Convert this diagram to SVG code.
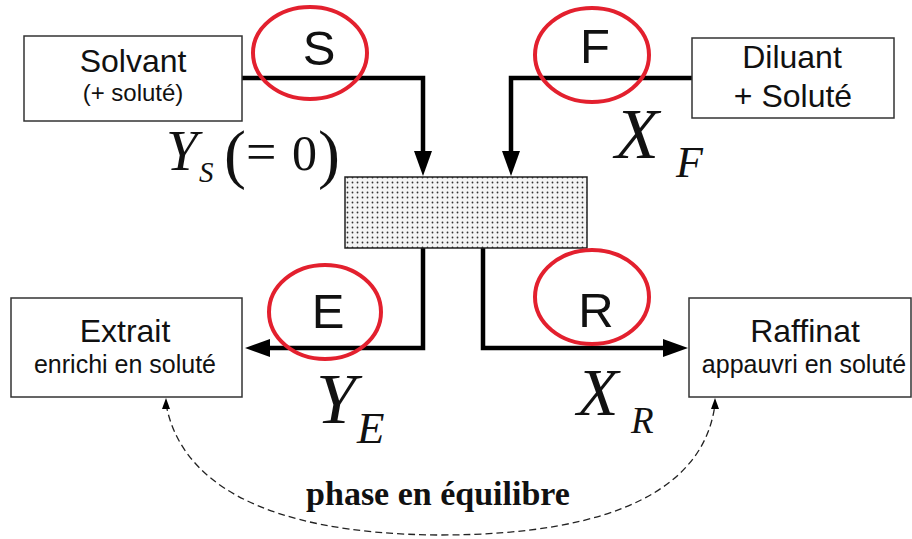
<svg xmlns="http://www.w3.org/2000/svg" width="912" height="539" viewBox="0 0 912 539">
<style>
.box{fill:#fff;stroke:#333;stroke-width:1.5}
.lbl{font-family:"Liberation Sans",Arial,sans-serif;fill:#111;text-anchor:middle}
.flow{fill:none;stroke:#000;stroke-width:4.5;stroke-linejoin:miter}
.ring{fill:none;stroke:#e3202e;stroke-width:4}
.math{font-family:"Liberation Serif","Times New Roman",serif;font-style:italic;fill:#111}
.rm{font-family:"Liberation Serif","Times New Roman",serif;fill:#111}
.big{font-family:"Liberation Sans",Arial,sans-serif;fill:#111;text-anchor:middle;font-size:49px}
.dash{fill:none;stroke:#222;stroke-width:1.3;stroke-dasharray:7 4}
</style>
<defs>
<pattern id="dots" width="5" height="5" patternUnits="userSpaceOnUse">
<rect width="5" height="5" fill="#f4f4f4"/>
<circle cx="2.5" cy="2.5" r="0.9" fill="#333"/>
</pattern>
</defs>

<g id="connectors">
<polyline class="flow" points="242,78 423,78 423,153"/>
<polygon points="414,151 432,151 423,176" fill="#000"/>
<polyline class="flow" points="692,78 511,78 511,153"/>
<polygon points="502,151 520,151 511,176" fill="#000"/>
<polyline class="flow" points="423,248 423,348 268,348"/>
<polygon points="270,339 270,357 245,348" fill="#000"/>
<polyline class="flow" points="483,248 483,348 665,348"/>
<polygon points="663,339 663,357 688,348" fill="#000"/>
<path class="dash" d="M166,404 C180,480 260,534 440,535 C620,535 705,485 715,404"/>
<polygon points="162,409 170,409 166,398" fill="#000"/>
<polygon points="711,409 719,409 715,398" fill="#000"/>
</g>

<g id="mixer">
<rect x="345" y="177" width="242" height="71" fill="url(#dots)" stroke="#222" stroke-width="1.5"/>
</g>

<g id="solvant">
<rect class="box" x="24" y="36" width="218" height="85"/>
<text class="lbl" x="133" y="72" font-size="32">Solvant</text>
<text class="lbl" x="133" y="101" font-size="24">(+ soluté)</text>
</g>

<g id="diluant">
<rect class="box" x="692" y="38" width="202" height="80"/>
<text class="lbl" x="792" y="68" font-size="32">Diluant</text>
<text class="lbl" x="793" y="107" font-size="32">+ Soluté</text>
</g>

<g id="extrait">
<rect class="box" x="11" y="298" width="231" height="99"/>
<text class="lbl" x="125" y="342" font-size="32">Extrait</text>
<text class="lbl" x="125" y="373" font-size="25">enrichi en soluté</text>
</g>

<g id="raffinat">
<rect class="box" x="689" y="298" width="222" height="99"/>
<text class="lbl" x="805" y="342" font-size="32">Raffinat</text>
<text class="lbl" x="804" y="373" font-size="25">appauvri en soluté</text>
</g>

<g id="S">
<ellipse class="ring" cx="310" cy="53" rx="57" ry="46"/>
<text class="big" x="319" y="65">S</text>
</g>
<g id="F">
<ellipse class="ring" cx="592" cy="55" rx="57" ry="47"/>
<text class="big" x="595" y="63">F</text>
</g>
<g id="E">
<ellipse class="ring" cx="325" cy="312" rx="56" ry="47"/>
<text class="big" x="328" y="328">E</text>
</g>
<g id="R">
<ellipse class="ring" cx="592" cy="297" rx="57" ry="47"/>
<text class="big" x="596" y="327">R</text>
</g>

<g id="labels">
<text class="math" x="166" y="170" font-size="57">Y</text>
<text class="math" x="199" y="182" font-size="29">S</text>
<text class="rm" x="224" y="176" font-size="66">(</text>
<text class="rm" x="246" y="170" font-size="54">=</text>
<text class="rm" x="292" y="170" font-size="50">0</text>
<text class="rm" x="318" y="176" font-size="66">)</text>
<text class="math" x="615" y="158" font-size="72">X</text>
<text class="math" x="676" y="177" font-size="44">F</text>
<text class="math" x="316" y="423" font-size="72">Y</text>
<text class="math" x="357" y="443" font-size="45">E</text>
<text class="math" x="577" y="415" font-size="68">X</text>
<text class="math" x="631" y="433" font-size="37">R</text>
<text x="438" y="505" class="rm" font-weight="bold" font-size="34" text-anchor="middle">phase en équilibre</text>
</g>
</svg>
